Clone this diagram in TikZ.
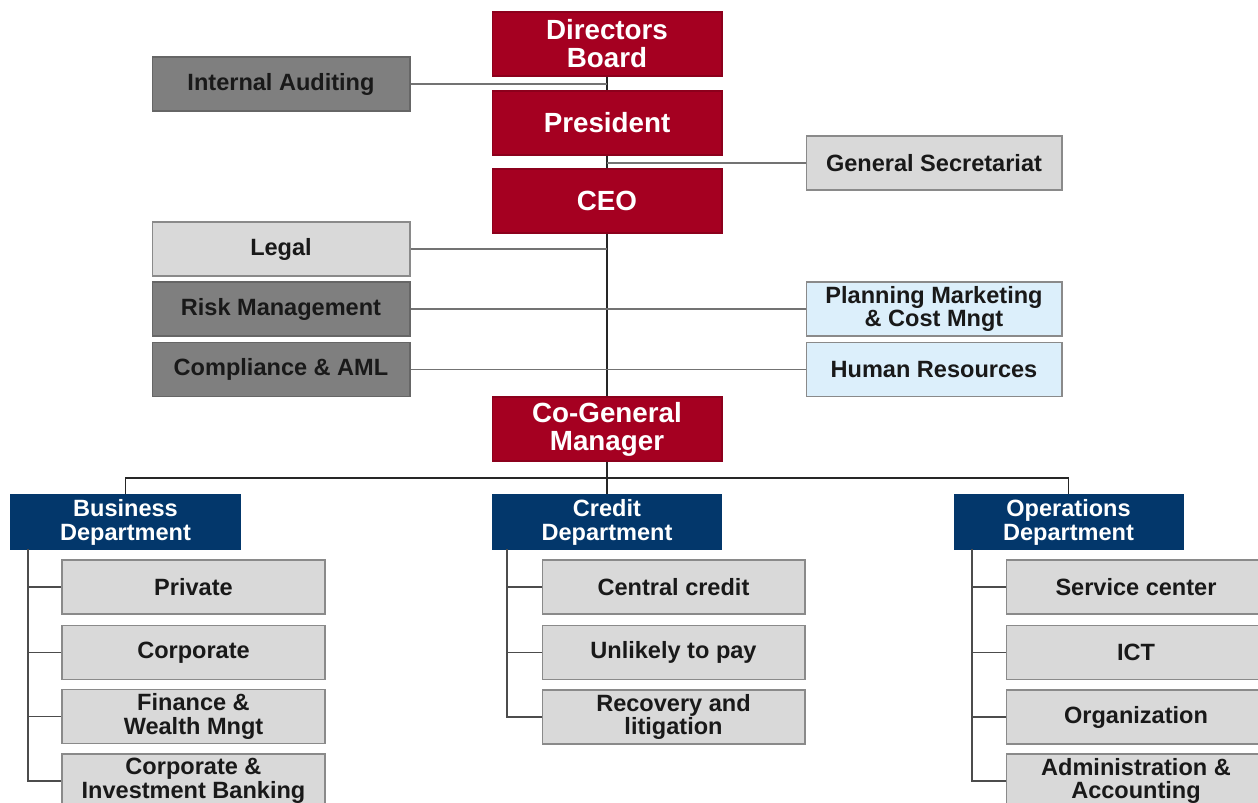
\documentclass[tikz,border=0pt]{standalone}
\usepackage{fontspec}
\setmainfont{Liberation Sans}
\definecolor{cred}{HTML}{A50021}
\definecolor{cnavy}{HTML}{03376B}
\definecolor{clgray}{HTML}{D9D9D9}
\definecolor{cdgray}{HTML}{7F7F7F}
\definecolor{clblue}{HTML}{DCEFFB}
\definecolor{cborder}{HTML}{8A8A8A}
\begin{document}
\begin{tikzpicture}[x=0.02cm,y=0.02cm,
  box/.style={rectangle, inner sep=0pt, align=center, line width=0.6pt,
    font=\fontsize{13.4}{13.6}\selectfont\bfseries},
  redb/.style={box, fill=cred, draw=cred!85!black, text=white,
    minimum width=4.6cm, minimum height=1.28cm,
    font=\fontsize{15.8}{16}\selectfont\bfseries},
  deptb/.style={box, fill=cnavy, draw=cnavy, text=white,
    minimum width=4.58cm, minimum height=1.08cm},
  lgb/.style={box, fill=clgray, draw=cborder, text=black!90,
    minimum width=5.16cm, minimum height=1.08cm},
  dgb/.style={box, fill=cdgray, draw=black!60, text=black!90,
    minimum width=5.16cm, minimum height=1.08cm},
  lbb/.style={box, fill=clblue, draw=cborder, text=black!90,
    minimum width=5.12cm, minimum height=1.08cm},
  subb/.style={box, fill=clgray, draw=cborder, text=black!90,
    minimum width=5.26cm, minimum height=1.08cm},
  trunk/.style={draw=black!85, line width=1.1pt},
  side/.style={draw=black!55, line width=1.1pt},
  subl/.style={draw=black!70, line width=1pt}]
\clip (0,0) rectangle (1258,-803);
\fill[white] (0,0) rectangle (1258,-803);

% top chain
\node[redb] (dir) at (607,-44) {Directors\\Board};
\node[redb] (pres) at (607,-123) {President};
\node[redb] (ceo) at (607,-201) {CEO};
\node[redb] (cogm) at (607,-429) {Co-General\\Manager};

% side boxes
\node[dgb] (audit) at (281,-84) {Internal Auditing};
\node[lbb, fill=clgray] (gensec) at (934,-163) {General Secretariat};
\node[lgb] (legal) at (281,-249) {Legal};
\node[dgb] (risk) at (281,-309) {Risk Management};
\node[dgb] (comp) at (281,-369.5) {Compliance \& AML};
\node[lbb] (plan) at (934,-309) {Planning Marketing\\\& Cost Mngt};
\node[lbb] (hr) at (934,-369.5) {Human Resources};

% departments
\node[deptb] (bus) at (125.5,-522) {Business\\Department};
\node[deptb] (cred) at (607,-522) {Credit\\Department};
\node[deptb] (ops) at (1068.5,-522) {Operations\\Department};

% business subs
\node[subb] (b1) at (193.5,-587) {Private};
\node[subb] (b2) at (193.5,-652.5) {Corporate};
\node[subb] (b3) at (193.5,-716.5) {Finance \&\\Wealth Mngt};
\node[subb] (b4) at (193.5,-781) {Corporate \&\\Investment Banking};

% credit subs
\node[subb] (c1) at (673.5,-587) {Central credit};
\node[subb] (c2) at (673.5,-652.5) {Unlikely to pay};
\node[subb] (c3) at (673.5,-717) {Recovery and\\litigation};

% operations subs
\node[subb, minimum width=5.2cm] (o1) at (1136,-587) {Service center};
\node[subb, minimum width=5.2cm] (o2) at (1136,-652.5) {ICT};
\node[subb, minimum width=5.2cm] (o3) at (1136,-717) {Organization};
\node[subb, minimum width=5.2cm] (o4) at (1136,-781) {Administration \&\\Accounting};

% main trunk
\draw[trunk] (dir.south) -- (pres.north);
\draw[trunk] (pres.south) -- (ceo.north);
\draw[trunk] (ceo.south) -- (cogm.north);

% side connectors
\draw[side] (audit.east) -- (audit.east -| dir.south);
\draw[side] (gensec.west) -- (gensec.west -| pres.south);
\draw[side] (legal.east) -- (legal.east -| ceo.south);
\draw[side] (risk.east) -- (plan.west);
\draw[side] (comp.east) -- (hr.west);

% department bar
\coordinate (bar) at (607,-478);
\draw[trunk] (cogm.south) -- (bar);
\draw[trunk] (bus.north) -- (bus.north |- bar) -- (ops.north |- bar) -- (ops.north);
\draw[trunk] (cred.north) -- (cred.north |- bar);

% sub trunks
\coordinate (bt) at (28,-549);
\coordinate (ct) at (507,-549);
\coordinate (ot) at (972,-549);
\draw[subl] (bt) |- (b4.west);
\draw[subl] (b1.west -| bt) -- (b1.west);
\draw[subl] (b2.west -| bt) -- (b2.west);
\draw[subl] (b3.west -| bt) -- (b3.west);
\draw[subl] (ct) |- (c3.west);
\draw[subl] (c1.west -| ct) -- (c1.west);
\draw[subl] (c2.west -| ct) -- (c2.west);
\draw[subl] (ot) |- (o4.west);
\draw[subl] (o1.west -| ot) -- (o1.west);
\draw[subl] (o2.west -| ot) -- (o2.west);
\draw[subl] (o3.west -| ot) -- (o3.west);
\end{tikzpicture}
\end{document}
